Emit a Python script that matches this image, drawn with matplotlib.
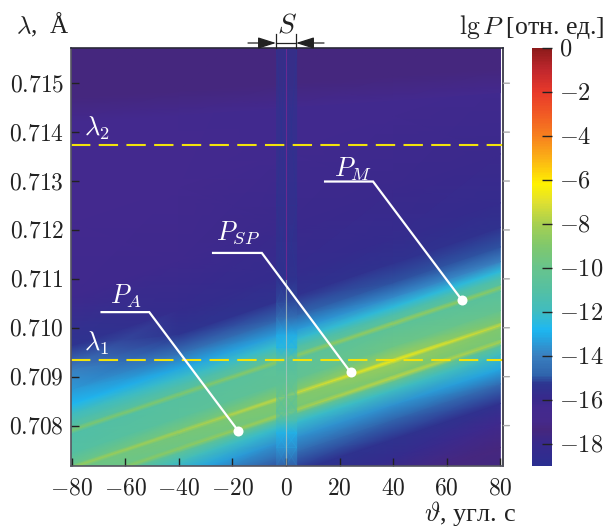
import numpy as np
import matplotlib
matplotlib.use("Agg")
import matplotlib.pyplot as plt
from matplotlib.colors import LinearSegmentedColormap, Normalize
from matplotlib.cm import ScalarMappable
from matplotlib.patches import FancyArrowPatch

plt.rcParams["mathtext.fontset"] = "cm"
plt.rcParams["font.family"] = ["Liberation Serif", "DejaVu Serif"]

# -------------------------
# Values
# -------------------------

theta_cols = [-80, -40, 0, 40, 80]

# distance from the central ridge, 1e-3 angstrom
offsets = [-3.2, -2.5, -2.0, -1.6, -1.2, -0.9, -0.6, -0.42, -0.35, -0.28, -0.06,
           0.0, 0.06, 0.3, 0.69, 0.76, 0.83, 0.95, 1.1, 1.3, 1.6, 2.0,
           2.5, 3.5, 5.0, 9.0]

lgp_table = [
    [-15.0, -15.0, -17.5, -17.5, -17.6],
    [-15.0, -15.0, -16.5, -17.2, -17.3],
    [-15.0, -15.0, -15.7, -15.8, -16.2],
    [-14.8, -15.0, -15.3, -15.4, -15.5],
    [-14.2, -14.5, -14.6, -14.8, -14.6],
    [-13.0, -13.2, -13.6, -13.6, -13.2],
    [-11.5, -11.8, -12.2, -12.0, -12.0],
    [-10.8, -10.6, -10.4, -10.1, -10.5],
    [-8.9, -8.7, -8.2, -7.7, -8.1],
    [-10.0, -9.7, -9.3, -9.0, -9.3],
    [-9.8, -9.4, -9.0, -8.4, -9.0],
    [-8.5, -8.1, -7.5, -6.6, -7.6],
    [-10.0, -9.6, -9.1, -8.4, -9.2],
    [-11.0, -10.7, -10.4, -9.8, -10.2],
    [-11.2, -10.9, -10.6, -10.5, -10.8],
    [-9.2, -9.0, -8.7, -8.5, -8.8],
    [-10.9, -10.9, -10.6, -10.7, -10.8],
    [-11.4, -11.4, -11.2, -11.4, -11.3],
    [-12.0, -12.1, -12.2, -12.4, -12.4],
    [-12.8, -13.2, -13.4, -13.8, -14.0],
    [-13.5, -14.4, -14.8, -15.0, -15.0],
    [-14.0, -15.3, -15.5, -15.5, -15.5],
    [-15.3, -15.8, -15.8, -15.8, -15.8],
    [-16.2, -16.2, -16.1, -16.1, -16.1],
    [-16.4, -16.4, -16.3, -16.3, -16.3],
    [-16.4, -16.4, -16.4, -16.4, -16.4],
]

ridge_centre = 0.7086
ridge_slope = 1.82e-5

# dark area at the top: where it starts at each theta_cols value
dark_edge = [0.71447, 0.71460, 0.71476, 0.71490, 0.71506]
dark_shift = [-0.00025, 0.00025, 0.0020]
dark_lgp = [-16.4, -17.4, -17.4]

# strip around zero angle
strip_edges = [-3.5, 0.0, 4.0]
strip_lam = [0.70718, 0.70755, 0.70785, 0.7081, 0.7083, 0.7086, 0.7090, 0.70935,
             0.7096, 0.70985, 0.7102, 0.7105, 0.7110, 0.7125, 0.7157]
strip_lgp = [-14.6, -13.4, -12.9, -11.4, -10.8, -10.4, -10.6, -11.2,
             -12.9, -13.0, -14.4, -15.0, -15.3, -15.4, -15.4]

xticks = [-80, -60, -40, -20, 0, 20, 40, 60, 80]
yticks = [0.708, 0.709, 0.710, 0.711, 0.712, 0.713, 0.714, 0.715]
cticks = [0, -2, -4, -6, -8, -10, -12, -14, -16, -18]

lambda_1 = 0.70935
lambda_2 = 0.71373

# leader lines: start, knee, dot
leaders = {
    "A": ([-68.8, -51.0, -17.8], [0.71032, 0.71032, 0.70789]),
    "SP": ([-27.2, -9.0, 24.1], [0.71153, 0.71153, 0.70909]),
    "M": ([14.6, 32.5, 65.6], [0.71299, 0.71299, 0.71057]),
}

cmap_levels = [-19, -18, -17.4, -17, -16.4, -16, -15.3, -14.9, -14, -13, -12.8, -12,
               -11, -10, -9, -8, -7, -6.2, -5, -4, -3, -2, -1, 0]
cmap_colors = ["#2b2e90", "#38298c", "#46277d", "#45298a", "#43298e", "#38298c",
               "#2d3590", "#2f64ac", "#3a80c0", "#1fb0ea", "#1fb8f0", "#40bcc0",
               "#55c0a2", "#68c48c", "#80c86c", "#a8d050", "#e0e030", "#fff200",
               "#fbb016", "#f7801e", "#f15a24", "#e8392a", "#c0272d", "#8b1a1a"]

# -------------------------
# Plot
# -------------------------

norm = Normalize(-19, 0)
cmap = LinearSegmentedColormap.from_list(
    "lgp", [((v + 19) / 19, c) for v, c in zip(cmap_levels, cmap_colors)]
)

W, H = 610, 529
fig = plt.figure(figsize=(W / 100, H / 100), dpi=100)
ax = fig.add_axes([71 / W, 1 - 465.7 / H, (502.5 - 71) / W, (465.7 - 48) / H])

T, D = np.meshgrid(theta_cols, offsets)
L = ridge_centre + ridge_slope * T + D * 1e-3
ax.pcolormesh(T, L, np.array(lgp_table), cmap=cmap, norm=norm, shading="gouraud")

# dark top area
DT = np.array([theta_cols] * len(dark_shift))
DL = np.array([[e + s for e in dark_edge] for s in dark_shift])
DV = np.column_stack([dark_lgp] * len(theta_cols))
ax.pcolormesh(DT, DL, DV, cmap=cmap, norm=norm, shading="gouraud")

# strip
ST, SL = np.meshgrid(strip_edges, strip_lam)
SV = np.column_stack([strip_lgp] * len(strip_edges))
ax.pcolormesh(ST, SL, SV, cmap=cmap, norm=norm, shading="gouraud", alpha=0.65)
ax.plot([0, 0], [strip_lam[0], 0.7110], color="#b8c4c0", lw=0.8, alpha=0.7)
ax.plot([0, 0], [0.7110, strip_lam[-1]], color="#6a2a90", lw=0.8)

for lam in (lambda_1, lambda_2):
    ax.plot([-80.2, 80.8], [lam, lam], color="#f2e20c", lw=1.5, dashes=(9.3, 4))

for key, (tx, ty) in leaders.items():
    ax.plot(tx, ty, color="white", lw=1.6, solid_joinstyle="miter")
    ax.plot(tx[-1], ty[-1], "o", color="white", ms=7.2, mec="none")

ax.set_xlim(-80.2, 80.8)
ax.set_ylim(0.70718, 0.71572)
ax.set_xticks(xticks)
ax.set_xticklabels(["$%d$" % v for v in xticks], fontsize=17, color="#222222")
ax.set_yticks(yticks)
ax.set_yticklabels(["$%.3f$" % v for v in yticks], fontsize=17, color="#222222")
ax.tick_params(axis="both", direction="in", length=6, width=1.0, color="#222222", pad=5)
ax.tick_params(axis="x", pad=9)
for side, s in ax.spines.items():
    s.set_color("#2a2a3a" if side in ("top", "right") else "#555560")
    s.set_linewidth(1.2)

# grey ticks outside the right edge
for v in yticks:
    ax.annotate("", xy=(1.016, v), xytext=(1.002, v),
                xycoords=("axes fraction", "data"), textcoords=("axes fraction", "data"),
                arrowprops=dict(arrowstyle="-", color="#aaaaaa", lw=1.0, shrinkA=0, shrinkB=0))

# text
ax.text(-75.5, 0.71408, r"$\lambda_2$", color="white", fontsize=19, ha="left", va="center")
ax.text(-75.5, 0.70968, r"$\lambda_1$", color="white", fontsize=19, ha="left", va="center")
ax.text(-65.5, 0.71065, r"$P_A$", color="white", fontsize=19, ha="left", va="center")
ax.text(-26, 0.71195, r"$P_{SP}$", color="white", fontsize=19, ha="left", va="center")
ax.text(18, 0.71325, r"$P_M$", color="white", fontsize=19, ha="left", va="center")

fig.text(16 / W, 1 - 25 / H, r"$\lambda$,  Å", fontsize=18, color="#222222", va="center")
fig.text(516 / W, 1 - 514 / H, r"$\vartheta$, угл. с", fontsize=19, color="#222222",
         ha="right", va="center")
fig.text(605 / W, 1 - 27 / H, r"$\mathrm{lg}\,P$ [отн. ед.]", fontsize=18.5, color="#222222",
         ha="right", va="center")
fig.text(287 / W, 1 - 26 / H, r"$S$", fontsize=20, color="#222222", ha="center", va="center")

# width mark over the strip
for px in (276, 296):
    fig.add_artist(plt.Line2D([px / W, px / W], [1 - 34 / H, 1 - 48 / H], color="#222222", lw=0.9))
fig.add_artist(plt.Line2D([276 / W, 296 / W], [1 - 43 / H, 1 - 43 / H], color="#222222", lw=0.9))
for x0, x1 in ((248, 276), (324, 296)):
    fig.add_artist(FancyArrowPatch(
        (x0 / W, 1 - 43 / H), (x1 / W, 1 - 43 / H), transform=fig.transFigure,
        arrowstyle="-|>,head_length=11,head_width=3.5", color="#222222", lw=0.9,
        shrinkA=0, shrinkB=0))

# colorbar
cax = fig.add_axes([531.7 / W, 1 - 465.7 / H, 20 / W, (465.7 - 47.5) / H])
cb = fig.colorbar(ScalarMappable(norm=norm, cmap=cmap), cax=cax)
cb.outline.set_visible(False)
cb.set_ticks(cticks)
cb.set_ticklabels(["$%d$" % v for v in cticks], fontsize=17.5, color="#222222")
cax.tick_params(axis="y", direction="in", length=7, width=1.0, color="#222222", pad=5)

plt.savefig("out.png", dpi=100)
